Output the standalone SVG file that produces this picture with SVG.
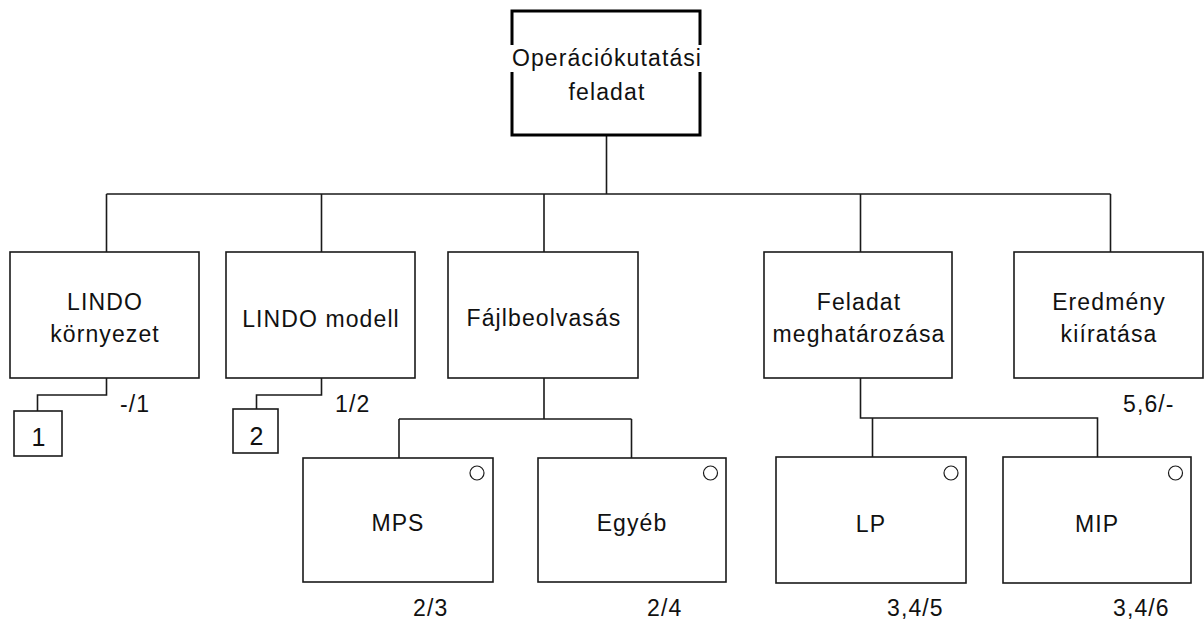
<svg xmlns="http://www.w3.org/2000/svg" width="1204" height="622" viewBox="0 0 1204 622">
<style>
.box{fill:#fff;stroke:#1a1a1a;stroke-width:1.6}
.top{fill:#fff;stroke:#000;stroke-width:3}
.ln{fill:none;stroke:#1a1a1a;stroke-width:1.6}
.dot{fill:#fff;stroke:#1a1a1a;stroke-width:1.2}
text{font-family:"Liberation Sans",Arial,sans-serif;font-size:23px;letter-spacing:1.1px;fill:#111}
.c{text-anchor:middle}
.big{font-size:25px}
</style>
<rect width="1204" height="622" fill="#fff"/>
<g id="connectors">
<path class="ln" d="M606.5 135V194M106.5 194H1110.5M106.5 194V252M321.5 194V252M544 194V252M860.5 194V252M1110.5 194V252"/>
<path class="ln" d="M106.5 378V395H37.5V411M321.5 378V395H256.5V409"/>
<path class="ln" d="M544 378V419M399 419H631.5M399 419V458M631.5 419V458"/>
<path class="ln" d="M860.5 378V418H1097.5V457M872.5 418V457"/>
</g>
<g id="n-root">
<rect class="top" x="512" y="11" width="188" height="124"/>
<rect x="508" y="45" width="196" height="27" fill="#fff"/>
<text class="c" x="607" y="66">Operációkutatási</text>
<text class="c" x="607" y="100">feladat</text>
</g>
<g id="n-lindo-env">
<rect class="box" x="10" y="252" width="189" height="126"/>
<text class="c" x="105" y="310">LINDO</text>
<text class="c" x="105" y="342">környezet</text>
<text x="120" y="412">-/1</text>
</g>
<g id="n-lindo-model">
<rect class="box" x="226" y="252" width="189" height="126"/>
<text class="c" x="321" y="327">LINDO modell</text>
<text x="335" y="412">1/2</text>
</g>
<g id="n-file">
<rect class="box" x="448" y="252" width="190" height="126"/>
<text class="c" x="544" y="326">Fájlbeolvasás</text>
</g>
<g id="n-task">
<rect class="box" x="764" y="252" width="188" height="126"/>
<text class="c" x="859" y="310">Feladat</text>
<text class="c" x="859" y="342">meghatározása</text>
</g>
<g id="n-result">
<rect class="box" x="1014" y="252" width="189" height="126"/>
<text class="c" x="1109" y="310">Eredmény</text>
<text class="c" x="1109" y="342">kiíratása</text>
<text x="1123" y="412">5,6/-</text>
</g>
<g id="n-1">
<rect class="box" x="14" y="411" width="48" height="45"/>
<text class="c big" x="39" y="446">1</text>
</g>
<g id="n-2">
<rect class="box" x="233" y="409" width="45" height="44"/>
<text class="c big" x="257" y="445">2</text>
</g>
<g id="n-mps">
<rect class="box" x="303" y="458" width="190" height="124"/>
<circle class="dot" cx="477" cy="473" r="7"/>
<text class="c" x="398" y="531">MPS</text>
<text x="413" y="616">2/3</text>
</g>
<g id="n-other">
<rect class="box" x="538" y="458" width="188" height="124"/>
<circle class="dot" cx="710.5" cy="473" r="7"/>
<text class="c" x="632" y="531">Egyéb</text>
<text x="647" y="616">2/4</text>
</g>
<g id="n-lp">
<rect class="box" x="776" y="457" width="190" height="126"/>
<circle class="dot" cx="951" cy="473" r="7"/>
<text class="c" x="871" y="532">LP</text>
<text x="887" y="616">3,4/5</text>
</g>
<g id="n-mip">
<rect class="box" x="1003" y="457" width="188" height="126"/>
<circle class="dot" cx="1175.5" cy="473" r="7"/>
<text class="c" x="1097" y="532">MIP</text>
<text x="1113" y="616">3,4/6</text>
</g>
</svg>
